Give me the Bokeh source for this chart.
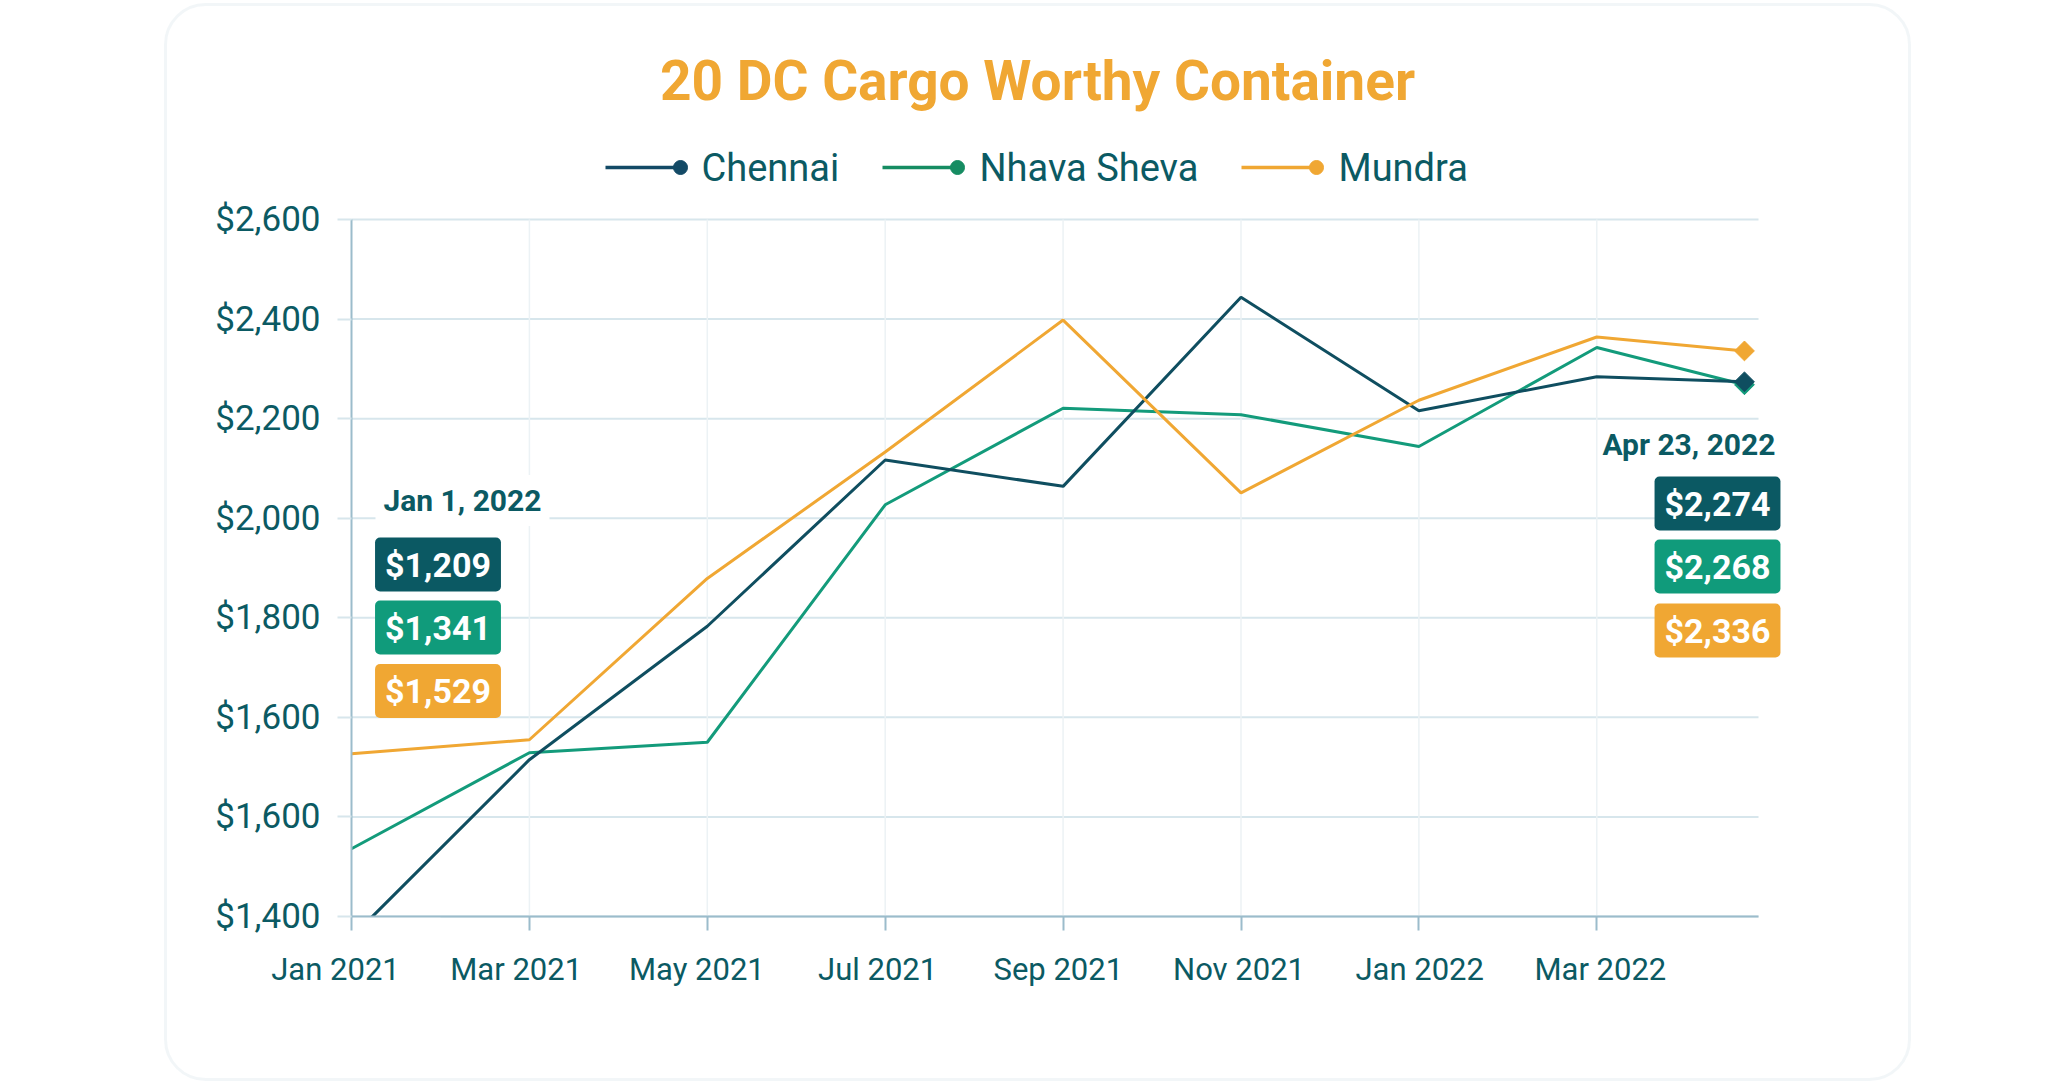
import numpy as np
from bokeh.plotting import figure
from bokeh.models import Range1d, FixedTicker, Label, BoxAnnotation, LinearAxis
from bokeh.embed import file_html
from bokeh.resources import INLINE

# ---------------- data ----------------
title_text = "20 DC Cargo Worthy Container"
series_names = ["Chennai", "Nhava Sheva", "Mundra"]
# month index since Jan 2021 (last point: Apr 23, 2022)
months = [0, 2, 4, 6, 8, 10, 12, 14, 15.66]
chennai = [1158, 1515, 1783, 2117, 2064, 2444, 2216, 2284, 2274]
nhava_sheva = [1336, 1529, 1550, 2027, 2221, 2208, 2144, 2343, 2268]
mundra = [1527, 1555, 1879, 2133, 2398, 2051, 2237, 2364, 2336]

x_ticks = [0, 2, 4, 6, 8, 10, 12, 14]
x_tick_labels = ["Jan 2021", "Mar 2021", "May 2021", "Jul 2021",
                 "Sep 2021", "Nov 2021", "Jan 2022", "Mar 2022"]
y_ticks = [1200, 1400, 1600, 1800, 2000, 2200, 2400, 2600]
y_tick_labels = ["$1,400", "$1,600", "$1,600", "$1,800",
                 "$2,000", "$2,200", "$2,400", "$2,600"]

start_date_label = "Jan 1, 2022"
start_values = ["$1,209", "$1,341", "$1,529"]
end_date_label = "Apr 23, 2022"
end_values = ["$2,274", "$2,268", "$2,336"]

# ---------------- layout / styles ----------------
W, H = 2071, 1084
AX_X, AX_R, AX_Y = 351, 1758, 916        # plot-area pixel edges
PX_PER_MONTH = 88.95
PX_PER_DOLLAR = 99.57 / 200.0
LBL_X0, LBL_STEP = 335, 90.35             # x tick label placement (px, px/month)

line_colors = ["#0f4e60", "#139b7b", "#f0a733"]
legend_colors = ["#134a66", "#168c62", "#f0a733"]
box_colors = ["#0b5963", "#109b7b", "#f0a733"]
text_color = "#0b5a63"
axis_color = "#9bbccb"
grid_color = "#d7e6ec"
vgrid_color = "#ecf2f5"
title_color = "#f0a733"
card_color = "#d3e1e8"
FONT = "Roboto"


def X(px):
    return (px - AX_X) / PX_PER_MONTH


def Y(py):
    return y_ticks[0] + (AX_Y - py) / PX_PER_DOLLAR


x_end = X(AX_R)

p = figure(width=W, height=H, output_backend="svg", toolbar_location=None,
           x_range=Range1d(X(0), X(W)), y_range=Range1d(Y(H), Y(0)),
           min_border=0, min_border_left=0, min_border_right=0,
           min_border_top=0, min_border_bottom=0)
p.outline_line_color = None
p.background_fill_color = "white"
p.border_fill_color = "white"
p.xgrid.visible = False
p.ygrid.visible = False

# card
p.add_layout(BoxAnnotation(left=X(165), right=X(1909), top=Y(4), bottom=Y(1079),
                           fill_color=None, line_color=card_color, line_width=3,
                           border_radius=40, level="underlay"))

# grid lines (restricted to plot area)
p.segment(x0=[0] * len(y_ticks), y0=y_ticks, x1=[x_end] * len(y_ticks), y1=y_ticks,
          line_color=grid_color, line_width=2)
p.segment(x0=x_ticks[1:], y0=[y_ticks[0]] * (len(x_ticks) - 1), x1=x_ticks[1:],
          y1=[y_ticks[-1]] * (len(x_ticks) - 1), line_color=vgrid_color, line_width=1.5)

# series
series = {"Chennai": chennai, "Nhava Sheva": nhava_sheva, "Mundra": mundra}
order = ["Nhava Sheva", "Chennai", "Mundra"]
for name in order:
    i = series_names.index(name)
    vals = series[name]
    p.line(months, vals, line_color=line_colors[i], line_width=3)

# clip lines below the x axis (plot area bottom)
p.quad(left=[X(338)], right=[X(440)], bottom=[Y(965)], top=[y_ticks[0]],
       fill_color="white", line_color=None)

for name in order:
    i = series_names.index(name)
    vals = series[name]
    p.scatter([months[-1]], [vals[-1]], marker="square", angle=np.pi / 4,
              size=14, fill_color=line_colors[i], line_color=line_colors[i])

# axes
xa = p.xaxis[0]
xa.fixed_location = y_ticks[0]
xa.bounds = (0, x_end)
xa.ticker = FixedTicker(ticks=x_ticks)
xa.major_label_text_font_size = "0px"
xa.major_label_overrides = {t: "" for t in x_ticks}
xa.axis_line_color = axis_color
xa.axis_line_width = 2
xa.major_tick_line_color = axis_color
xa.major_tick_line_width = 2
xa.major_tick_out = 14
xa.major_tick_in = 0
xa.minor_tick_line_color = None

# tick labels of the x axis (own label spacing)
p.extra_x_ranges = {"lbl": Range1d((0 - LBL_X0) / LBL_STEP, (W - LBL_X0) / LBL_STEP)}
xl = LinearAxis(x_range_name="lbl", fixed_location=y_ticks[0],
                ticker=FixedTicker(ticks=x_ticks),
                major_label_overrides={t: l for t, l in zip(x_ticks, x_tick_labels)},
                axis_line_color=None, major_tick_line_color=None,
                minor_tick_line_color=None, major_tick_out=14, major_tick_in=0,
                major_label_text_font=FONT, major_label_text_font_size="31px",
                major_label_text_color=text_color, major_label_standoff=20)
p.add_layout(xl, "below")

ya = p.yaxis[0]
ya.fixed_location = 0
ya.ticker = FixedTicker(ticks=y_ticks)
ya.major_label_overrides = {t: l for t, l in zip(y_ticks, y_tick_labels)}
ya.bounds = (y_ticks[0], y_ticks[-1])
ya.axis_line_color = axis_color
ya.axis_line_width = 2
ya.major_tick_line_color = grid_color
ya.major_tick_line_width = 2
ya.major_tick_out = 14
ya.major_tick_in = 0
ya.minor_tick_line_color = None
ya.major_label_text_font = FONT
ya.major_label_text_font_size = "35px"
ya.major_label_text_color = text_color
ya.major_label_standoff = 17

# title
p.add_layout(Label(x=X(1037), y=Y(80), text=title_text, text_align="center",
                   text_baseline="middle", text_font=FONT,
                   text_font_style="bold", text_font_size="55px",
                   text_color=title_color))

# legend
leg_line_x0 = [605, 882, 1241]
leg_text_x = [701, 979, 1338]
LEG_Y = 167
for i, name in enumerate(series_names):
    p.segment(x0=[X(leg_line_x0[i])], y0=[Y(LEG_Y)], x1=[X(leg_line_x0[i] + 75)],
              y1=[Y(LEG_Y)], line_color=legend_colors[i], line_width=3.5)
    p.scatter([X(leg_line_x0[i] + 75)], [Y(LEG_Y)], marker="circle", size=14,
              fill_color=legend_colors[i], line_color=legend_colors[i])
    p.add_layout(Label(x=X(leg_text_x[i]), y=Y(LEG_Y), text=name,
                       text_align="left", text_baseline="middle",
                       text_font=FONT, text_font_size="38px",
                       text_color=text_color))

# start annotation
p.add_layout(Label(x=X(375), y=Y(500), text=start_date_label, text_align="left",
                   text_baseline="middle", text_font=FONT,
                   text_font_style="bold", text_font_size="30px",
                   text_color=text_color, background_fill_color="white",
                   padding=8))
start_box_y = [564, 627, 690.5]
for i, v in enumerate(start_values):
    p.add_layout(Label(x=X(437.5), y=Y(start_box_y[i]), text=v,
                       text_align="center", text_baseline="middle",
                       text_font=FONT, text_font_style="bold",
                       text_font_size="34px", text_color="white",
                       background_fill_color=box_colors[i],
                       border_radius=5, padding=dict(left=10, right=10, top=7, bottom=7)))

# end annotation
p.add_layout(Label(x=X(1775), y=Y(444), text=end_date_label, text_align="right",
                   text_baseline="middle", text_font=FONT,
                   text_font_style="bold", text_font_size="30px",
                   text_color=text_color))
end_box_y = [503, 566, 630]
for i, v in enumerate(end_values):
    p.add_layout(Label(x=X(1717), y=Y(end_box_y[i]), text=v,
                       text_align="center", text_baseline="middle",
                       text_font=FONT, text_font_style="bold",
                       text_font_size="34px", text_color="white",
                       background_fill_color=box_colors[i],
                       border_radius=5, padding=dict(left=10, right=10, top=7, bottom=7)))

open("out.html", "w").write(file_html(p, INLINE))
